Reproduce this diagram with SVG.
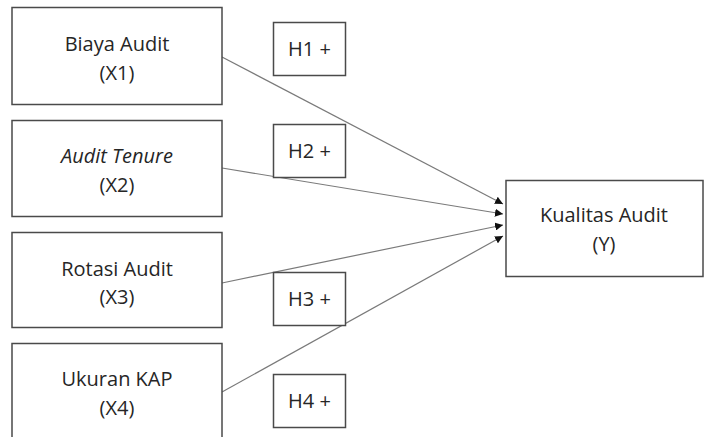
<svg xmlns="http://www.w3.org/2000/svg" width="706" height="437" viewBox="0 0 706 437">
<style>
.box{fill:#fff;stroke:#4a4a4a;stroke-width:1.5}
.hbox{fill:#fff;stroke:#4a4a4a;stroke-width:1.5}
.t{font-family:"Open Sans","Noto Sans",sans-serif;font-size:20px;fill:#262626;text-anchor:middle}
.it{font-style:italic}
.c{stroke:#7a7a7a;stroke-width:1.2;fill:none;marker-end:url(#ah)}
</style>
<defs>
<marker id="ah" markerUnits="userSpaceOnUse" markerWidth="9" markerHeight="8" refX="8" refY="4" orient="auto">
<path d="M0,0 L8,4 L0,8 z" fill="#111"/>
</marker>
</defs>
<rect width="706" height="437" fill="#fff"/>
<g id="connectors">
<line class="c" x1="222" y1="57" x2="503" y2="204"/>
<line class="c" x1="222" y1="168" x2="503" y2="214"/>
<line class="c" x1="222" y1="283" x2="503" y2="225"/>
<line class="c" x1="222" y1="392" x2="503" y2="236"/>
</g>
<g id="x1">
<rect class="box" x="12" y="7.5" width="210" height="97"/>
<text class="t" x="117" y="51">Biaya Audit</text>
<text class="t" x="117" y="80">(X1)</text>
</g>
<g id="x2">
<rect class="box" x="12" y="120.5" width="210" height="96"/>
<text class="t it" x="117" y="163">Audit Tenure</text>
<text class="t" x="117" y="192">(X2)</text>
</g>
<g id="x3">
<rect class="box" x="12" y="232.5" width="210" height="95"/>
<text class="t" x="117" y="276">Rotasi Audit</text>
<text class="t" x="117" y="304">(X3)</text>
</g>
<g id="x4">
<rect class="box" x="12" y="343.5" width="210" height="110"/>
<text class="t" x="117" y="386">Ukuran KAP</text>
<text class="t" x="117" y="415">(X4)</text>
</g>
<g id="y">
<rect class="box" x="506" y="180.5" width="197" height="96"/>
<text class="t" x="604" y="222">Kualitas Audit</text>
<text class="t" x="604" y="251">(Y)</text>
</g>
<g id="h1">
<rect class="hbox" x="273.5" y="22.5" width="72" height="53"/>
<text class="t" x="309.5" y="56">H1 +</text>
</g>
<g id="h2">
<rect class="hbox" x="273.5" y="124.5" width="72" height="53"/>
<text class="t" x="309.5" y="158">H2 +</text>
</g>
<g id="h3">
<rect class="hbox" x="273.5" y="272.5" width="72" height="53"/>
<text class="t" x="309.5" y="306">H3 +</text>
</g>
<g id="h4">
<rect class="hbox" x="273.5" y="374.5" width="72" height="53"/>
<text class="t" x="309.5" y="408">H4 +</text>
</g>
</svg>
